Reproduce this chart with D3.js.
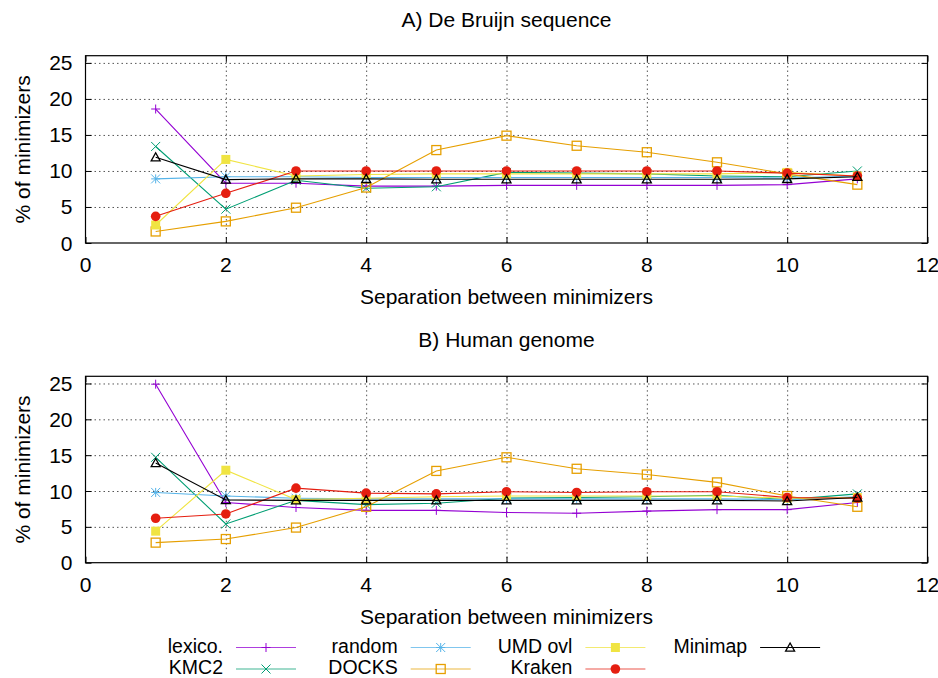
<!doctype html>
<html lang="en">
<head>
<meta charset="utf-8">
<title>Minimizer separation</title>
<script src="https://d3js.org/d3.v7.min.js"></script>
<style>
  body { margin: 0; background: #fff; }
  svg { display: block; }
  text { font-family: "Liberation Sans", Arial, sans-serif; font-size: 21px; fill: #000; }
  .legend text { font-size: 19.5px; }
  .grid line { stroke: #555; stroke-dasharray: 1.5,3; }
  .grid path { display: none; }
  .ticks path { display: none; }
  .ticks line { stroke: #000; }
</style>
</head>
<body>
<svg id="chart" width="938" height="678"></svg>
<script>
// separation between minimizers (x values)
const separation = [1, 2, 3, 4, 5, 6, 7, 8, 9, 10, 11];

// A) De Bruijn sequence, % of minimizers
const lexicoA  = [18.6, 8.3, 8.3, 7.9, 7.9, 8.0, 8.0, 8.0, 8.0, 8.1, 8.9];
const kmc2A    = [13.4, 4.7, 8.7, 7.6, 7.8, 9.8, 9.7, 9.6, 9.3, 9.2, 10.0];
const randomA  = [8.9, 9.2, 9.2, 9.1, 9.1, 9.1, 9.1, 9.1, 9.1, 9.0, 9.3];
const docksA   = [1.6, 3.0, 4.9, 7.7, 12.9, 14.9, 13.5, 12.6, 11.2, 9.6, 8.1];
const umdA     = [2.5, 11.6, 9.3, 9.5, 9.6, 9.6, 9.6, 9.6, 9.6, 9.8, 9.3];
const krakenA  = [3.7, 6.9, 10.0, 10.0, 10.0, 10.0, 10.0, 10.0, 10.0, 9.7, 9.3];
const minimapA = [11.9, 8.8, 8.9, 8.9, 8.85, 8.85, 8.85, 8.85, 8.85, 8.9, 9.2];

// B) Human genome, % of minimizers
const lexicoB  = [24.9, 8.4, 7.7, 7.3, 7.3, 7.0, 6.9, 7.2, 7.4, 7.4, 8.4];
const kmc2B    = [14.7, 5.4, 8.7, 8.1, 8.3, 9.0, 9.1, 9.2, 9.4, 8.8, 9.6];
const randomB  = [9.8, 9.3, 9.0, 8.9, 8.9, 8.9, 8.9, 8.9, 8.9, 8.8, 9.2];
const docksB   = [2.8, 3.3, 4.9, 7.8, 12.8, 14.7, 13.1, 12.3, 11.2, 9.3, 7.8];
const umdB     = [4.4, 12.9, 8.8, 9.0, 9.2, 9.3, 9.3, 9.3, 9.3, 9.0, 9.1];
const krakenB  = [6.2, 6.8, 10.4, 9.7, 9.6, 9.9, 9.8, 9.9, 9.9, 9.1, 9.0];
const minimapB = [13.9, 8.75, 8.7, 8.7, 8.7, 8.7, 8.7, 8.7, 8.7, 8.6, 9.1];

const xTicks = [0, 2, 4, 6, 8, 10, 12];
const yTicks = [0, 5, 10, 15, 20, 25];

// plotting order = gnuplot order
const seriesNames = ["lexico.", "KMC2", "random", "DOCKS", "UMD ovl", "Kraken", "Minimap"];
const colors = ["#9400d3", "#009e73", "#56b4e9", "#e69f00", "#f0e442", "#e51e10", "#000000"];
const markers = ["plus", "cross", "star", "openSquare", "filledSquare", "filledCircle", "openTriangle"];

const panels = [
  { title: "A) De Bruijn sequence", top: 55.7, bottom: 243,
    values: [lexicoA, kmc2A, randomA, docksA, umdA, krakenA, minimapA] },
  { title: "B) Human genome", top: 376.3, bottom: 562.7,
    values: [lexicoB, kmc2B, randomB, docksB, umdB, krakenB, minimapB] }
];

const left = 85.5, right = 927.5;
const svg = d3.select("#chart");

const x = d3.scaleLinear().domain([0, 12]).range([left, right]);

function drawMarker(g, type, color) {
  const s = 4.5;
  if (type === "plus") {
    g.append("path").attr("d", `M${-s},0H${s}M0,${-s}V${s}`).attr("stroke", color).attr("fill", "none");
  } else if (type === "cross") {
    g.append("path").attr("d", `M${-s},${-s}L${s},${s}M${-s},${s}L${s},${-s}`).attr("stroke", color).attr("fill", "none");
  } else if (type === "star") {
    g.append("path").attr("d", `M${-s},0H${s}M0,${-s}V${s}M${-s},${-s}L${s},${s}M${-s},${s}L${s},${-s}`)
      .attr("stroke", color).attr("fill", "none");
  } else if (type === "openSquare") {
    g.append("rect").attr("x", -s).attr("y", -s).attr("width", 2 * s).attr("height", 2 * s)
      .attr("stroke", color).attr("fill", "none").attr("stroke-width", 1.3);
  } else if (type === "filledSquare") {
    g.append("rect").attr("x", -s).attr("y", -s).attr("width", 2 * s).attr("height", 2 * s)
      .attr("fill", color);
  } else if (type === "filledCircle") {
    g.append("circle").attr("r", s + 0.3).attr("fill", color);
  } else if (type === "openTriangle") {
    g.append("path").attr("d", `M0,${-s}L${s},${s * 0.8}L${-s},${s * 0.8}Z`)
      .attr("stroke", color).attr("fill", "none").attr("stroke-width", 1.3);
  }
}

panels.forEach(p => {
  const y = d3.scaleLinear().domain([0, 26]).range([p.bottom, p.top]);
  const w = right - left, h = p.bottom - p.top;
  const g = svg.append("g");

  // grid
  g.append("g").attr("class", "grid").attr("transform", `translate(0,${p.bottom})`)
    .call(d3.axisBottom(x).tickValues(xTicks.slice(1, -1)).tickSize(-h).tickFormat(""));
  g.append("g").attr("class", "grid").attr("transform", `translate(${left},0)`)
    .call(d3.axisLeft(y).tickValues(yTicks.slice(1)).tickSize(-w).tickFormat(""));

  // mirrored inward ticks
  g.append("g").attr("class", "ticks").attr("transform", `translate(0,${p.bottom})`)
    .call(d3.axisBottom(x).tickValues(xTicks).tickSize(-6).tickFormat(""));
  g.append("g").attr("class", "ticks").attr("transform", `translate(0,${p.top})`)
    .call(d3.axisTop(x).tickValues(xTicks).tickSize(-6).tickFormat(""));
  g.append("g").attr("class", "ticks").attr("transform", `translate(${left},0)`)
    .call(d3.axisLeft(y).tickValues(yTicks).tickSize(-6).tickFormat(""));
  g.append("g").attr("class", "ticks").attr("transform", `translate(${right},0)`)
    .call(d3.axisRight(y).tickValues(yTicks).tickSize(-6).tickFormat(""));

  // tick labels
  g.selectAll(".xl").data(xTicks).join("text")
    .attr("x", d => x(d)).attr("y", p.bottom + 29).attr("text-anchor", "middle").text(d => d);
  g.selectAll(".yl").data(yTicks).join("text")
    .attr("x", left - 13).attr("y", d => y(d) + 7.5).attr("text-anchor", "end").text(d => d);

  // series
  const line = d3.line().x((d, i) => x(separation[i])).y(d => y(d));
  p.values.forEach((vals, k) => {
    g.append("path").datum(vals).attr("d", line)
      .attr("fill", "none").attr("stroke", colors[k]).attr("stroke-width", 1.1);
    vals.forEach((v, i) => {
      const m = g.append("g").attr("transform", `translate(${x(separation[i])},${y(v)})`);
      drawMarker(m, markers[k], colors[k]);
    });
  });

  // border
  g.append("rect").attr("x", left).attr("y", p.top).attr("width", w).attr("height", h)
    .attr("fill", "none").attr("stroke", "#000").attr("stroke-width", 1.2);

  // titles
  g.append("text").attr("x", (left + right) / 2).attr("y", p.top - 29)
    .attr("text-anchor", "middle").text(p.title);
  g.append("text").attr("x", (left + right) / 2).attr("y", p.bottom + 61)
    .attr("text-anchor", "middle").text("Separation between minimizers");
  g.append("text").attr("transform", `translate(30,${(p.top + p.bottom) / 2}) rotate(-90)`)
    .attr("text-anchor", "middle").text("% of minimizers");
});

// legend: 4 columns, filled column by column
const legend = svg.append("g").attr("class", "legend");
seriesNames.forEach((name, k) => {
  const col = Math.floor(k / 2), row = k % 2;
  const tx = 223 + col * 174.7;
  const ly = 647.5 + row * 21.5;
  legend.append("text").attr("x", tx).attr("y", ly + 5).attr("text-anchor", "end").text(name);
  legend.append("line").attr("x1", tx + 13).attr("x2", tx + 73).attr("y1", ly).attr("y2", ly)
    .attr("stroke", colors[k]).attr("stroke-width", 1.1).attr("opacity", k === 6 ? 1 : 0.75);
  const m = legend.append("g").attr("transform", `translate(${tx + 43},${ly})`);
  drawMarker(m, markers[k], colors[k]);
});
</script>
</body>
</html>
